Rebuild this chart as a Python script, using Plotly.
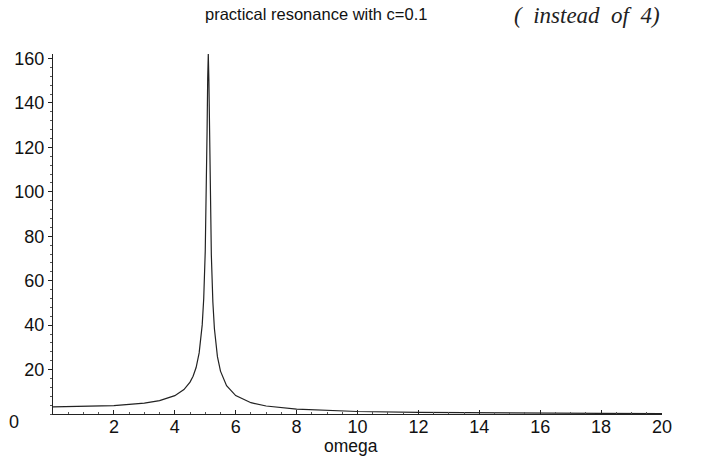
import plotly.graph_objects as go

# values (omega, amplitude)
omega = [0, 1, 2, 3, 3.5, 4, 4.3, 4.5, 4.6, 4.7, 4.8, 4.9, 4.95, 5.0, 5.03, 5.06, 5.08,
         5.1, 5.12, 5.14, 5.17, 5.2, 5.25, 5.3, 5.4, 5.5, 5.7, 6, 6.5, 7, 8, 9, 10,
         12, 14, 16, 18, 20]
amplitude = [3.18, 3.30, 3.75, 4.86, 6.00, 8.25, 10.98, 14.34, 17.0, 20.9, 27.5, 40.1, 52.0,
             73.3, 95.0, 127.3, 150.9, 162.0, 149.8, 125.7, 93.3, 71.6, 50.4, 38.5, 25.8,
             19.3, 12.7, 8.27, 5.08, 3.59, 2.17, 1.50, 1.12, 0.70, 0.49, 0.36, 0.28, 0.22]

x_ticks = [2, 4, 6, 8, 10, 12, 14, 16, 18, 20]
y_ticks = [20, 40, 60, 80, 100, 120, 140, 160]

title_text = "practical resonance with c=0.1"
note_text = "(  instead  of  4)"
x_label = "omega"

fig = go.Figure()
fig.add_trace(go.Scatter(x=omega, y=amplitude, mode="lines",
                         line=dict(color="#222222", width=1.2), showlegend=False))

axis_font = dict(family="Liberation Sans, Arial, sans-serif", color="#111111")

fig.update_layout(
    width=705, height=456,
    margin=dict(l=53, r=43, t=54, b=42),
    paper_bgcolor="white", plot_bgcolor="white",
    xaxis=dict(range=[0, 20], tickvals=x_ticks, ticktext=[str(v) for v in x_ticks],
               showgrid=False, zeroline=False, showline=True, linecolor="#222222", linewidth=1.2,
               ticks="inside", ticklen=4, tickcolor="#222222", ticklabelstandoff=-4,
               minor=dict(dtick=0.5, ticks="inside", ticklen=2, tickcolor="#555555"),
               tickfont=dict(size=18, **axis_font)),
    yaxis=dict(range=[0, 162], tickvals=y_ticks, ticktext=[str(v) for v in y_ticks],
               showgrid=False, zeroline=False, showline=True, linecolor="#222222", linewidth=1.2,
               ticks="outside", ticklen=4, tickcolor="#222222",
               minor=dict(dtick=4, ticks="outside", ticklen=2, tickcolor="#555555"),
               tickfont=dict(size=18, **axis_font)),
    annotations=[
        dict(text=title_text, xref="paper", yref="paper", x=0.432, y=1.111,
             xanchor="center", yanchor="middle", showarrow=False,
             font=dict(size=16.5, **axis_font)),
        dict(text=note_text, xref="paper", yref="paper", x=0.877, y=1.108,
             xanchor="center", yanchor="middle", showarrow=False,
             font=dict(size=23, family="Liberation Serif, serif", color="#222222", style="italic")),
        dict(text=x_label, xref="paper", yref="paper", x=0.49, y=-0.09,
             xanchor="center", yanchor="middle", showarrow=False,
             font=dict(size=17.5, **axis_font)),
        dict(text="0", xref="paper", yref="paper", x=-0.064, y=-0.022,
             xanchor="center", yanchor="middle", showarrow=False,
             font=dict(size=18, **axis_font)),
    ],
)

fig.write_html("out.html", config={"displayModeBar": False},
               post_script="document.body.style.margin='0px';document.body.style.overflow='hidden';")
